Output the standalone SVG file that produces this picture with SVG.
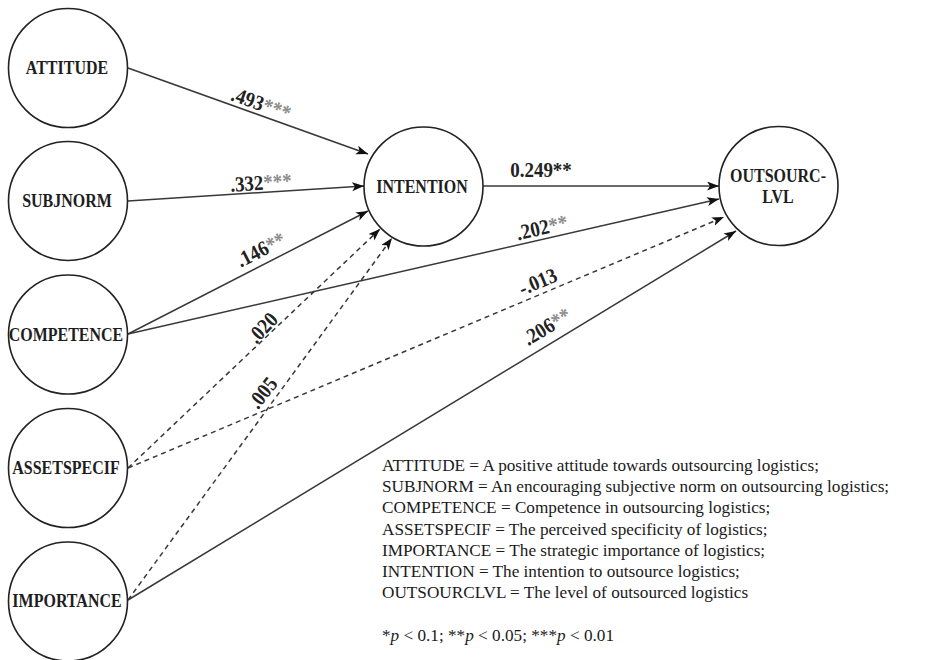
<svg xmlns="http://www.w3.org/2000/svg" width="938" height="660" viewBox="0 0 938 660">
  <style>
    .node circle { fill: #ffffff; stroke: #222222; stroke-width: 1.6; }
    .node text { font-family: "Liberation Serif", "Times New Roman", serif; font-weight: bold; font-size: 16px; fill: #1e1e1e; text-anchor: middle; }
    .edge { fill: none; stroke: #383838; stroke-width: 1.5; }
    .dash { stroke-dasharray: 5 4; }
    .lbl { font-family: "Liberation Serif", "Times New Roman", serif; font-weight: bold; font-size: 19px; fill: #222222; text-anchor: middle; }
    .star { fill: #8c8c8c; }
    .legend { font-family: "Liberation Serif", "Times New Roman", serif; font-size: 17.2px; fill: #1a1a1a; }
  </style>
  <defs>
    <marker id="arrow" markerUnits="userSpaceOnUse" markerWidth="13" markerHeight="10" refX="12" refY="4.5" orient="auto">
      <path d="M0,0 L12,4.5 L0,9 L3,4.5 Z" fill="#111111"/>
    </marker>
  </defs>

  <rect width="938" height="660" fill="#ffffff"/>

  <!-- paths -->
  <g id="connectors">
    <line class="edge" x1="128" y1="68" x2="368" y2="154" marker-end="url(#arrow)"/>
    <line class="edge" x1="128" y1="201" x2="364" y2="186" marker-end="url(#arrow)"/>
    <line class="edge" x1="128" y1="334" x2="368" y2="211" marker-end="url(#arrow)"/>
    <line class="edge" x1="128" y1="334" x2="719" y2="199" marker-end="url(#arrow)"/>
    <line class="edge dash" x1="128" y1="468" x2="380" y2="229" marker-end="url(#arrow)"/>
    <line class="edge dash" x1="128" y1="468" x2="724" y2="217" marker-end="url(#arrow)"/>
    <line class="edge dash" x1="128" y1="600" x2="392" y2="238" marker-end="url(#arrow)"/>
    <line class="edge" x1="128" y1="600" x2="736" y2="231" marker-end="url(#arrow)"/>
    <line class="edge" x1="483" y1="186" x2="719" y2="186" marker-end="url(#arrow)"/>
  </g>

  <!-- path coefficients -->
  <g id="edge-labels">
    <text class="lbl" transform="translate(261,104) rotate(19.7) scale(1,1.12)" y="6">.493<tspan class="star">***</tspan></text>
    <text class="lbl" transform="translate(261,183) rotate(-3.7) scale(1,1.12)" y="6">.332<tspan class="star">***</tspan></text>
    <text class="lbl" transform="translate(261,250) rotate(-27) scale(1,1.12)" y="6">.146<tspan class="star">**</tspan></text>
    <text class="lbl" transform="translate(542,228) rotate(-12.9) scale(1,1.12)" y="6">.202<tspan class="star">**</tspan></text>
    <text class="lbl" transform="translate(263,328) rotate(-47) scale(1,1.12)" y="6">.020</text>
    <text class="lbl" transform="translate(538,282) rotate(-22.9) scale(1,1.12)" y="6">-.013</text>
    <text class="lbl" transform="translate(263,393) rotate(-52) scale(1,1.12)" y="6">.005</text>
    <text class="lbl" transform="translate(547,327) rotate(-31.4) scale(1,1.12)" y="6">.206<tspan class="star">**</tspan></text>
    <text class="lbl" transform="translate(541,170) scale(1,1.12)" y="6">0.249**</text>
  </g>

  <!-- constructs -->
  <g id="attitude" class="node">
    <circle cx="68" cy="68" r="59.5"/>
    <text transform="translate(67,68) scale(1,1.18)" y="5.3">ATTITUDE</text>
  </g>
  <g id="subjnorm" class="node">
    <circle cx="68" cy="201" r="59.5"/>
    <text transform="translate(67,201) scale(1,1.18)" y="5.3">SUBJNORM</text>
  </g>
  <g id="competence" class="node">
    <circle cx="68" cy="334.5" r="59.5"/>
    <text transform="translate(66,334.5) scale(1,1.18)" y="5.3">COMPETENCE</text>
  </g>
  <g id="assetspecif" class="node">
    <circle cx="68" cy="468" r="59.5"/>
    <text transform="translate(66,468) scale(1,1.18)" y="5.3">ASSETSPECIF</text>
  </g>
  <g id="importance" class="node">
    <circle cx="68" cy="601.5" r="59.5"/>
    <text transform="translate(67,601) scale(1,1.18)" y="5.3">IMPORTANCE</text>
  </g>
  <g id="intention" class="node">
    <circle cx="423.5" cy="186.5" r="59.5"/>
    <text transform="translate(422,186.5) scale(1,1.18)" y="5.3">INTENTION</text>
  </g>
  <g id="outsourclvl" class="node">
    <circle cx="778.5" cy="186" r="59.5"/>
    <text transform="translate(778,175.5) scale(1,1.18)" y="5.3">OUTSOURC-</text>
    <text transform="translate(778,196.5) scale(1,1.18)" y="5.3">LVL</text>
  </g>

  <!-- legend -->
  <g id="legend" class="legend">
    <text x="382" y="471">ATTITUDE = A positive attitude towards outsourcing logistics;</text>
    <text x="382" y="492.2">SUBJNORM = An encouraging subjective norm on outsourcing logistics;</text>
    <text x="382" y="513.4">COMPETENCE = Competence in outsourcing logistics;</text>
    <text x="382" y="534.6">ASSETSPECIF = The perceived specificity of logistics;</text>
    <text x="382" y="555.8">IMPORTANCE = The strategic importance of logistics;</text>
    <text x="382" y="577">INTENTION = The intention to outsource logistics;</text>
    <text x="382" y="598.2">OUTSOURCLVL = The level of outsourced logistics</text>
    <text x="382" y="641">*<tspan font-style="italic">p</tspan> &lt; 0.1; **<tspan font-style="italic">p</tspan> &lt; 0.05; ***<tspan font-style="italic">p</tspan> &lt; 0.01</text>
  </g>
</svg>
